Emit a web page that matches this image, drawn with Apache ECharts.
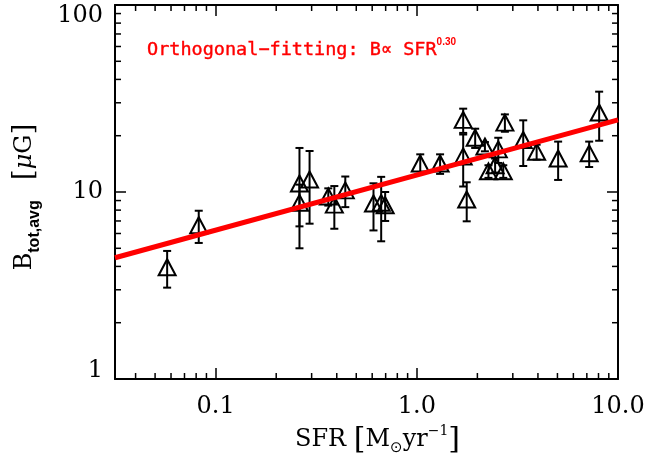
<!DOCTYPE html>
<html><head><meta charset="utf-8">
<script src="https://cdn.jsdelivr.net/npm/echarts@6/dist/echarts.min.js"></script>
<style>html,body{margin:0;padding:0;background:#fff}#c{width:650px;height:462px}</style>
</head><body><div id="c"></div>
<script>
// ---- data ----
const sfr  = [0.0574, 0.0824, 0.261, 0.261, 0.293, 0.363, 0.389, 0.441, 0.609, 0.665, 0.696,
              1.04, 1.305, 1.70, 1.70, 1.77, 1.95, 2.18, 2.54, 2.27, 2.45, 2.69, 2.74, 3.38, 3.94, 5.04, 7.19, 8.06];
const bTot = [3.96, 6.64, 11.1, 8.75, 11.67, 9.46, 8.56, 10.2, 8.68, 8.75, 8.5,
              14.2, 14.2, 24.3, 15.5, 9.12, 19.5, 17.5, 16.9, 12.9, 13.9, 12.9, 23.5, 18.97, 16.4, 15.1, 16.1, 26.6];
const bErr = [0.88, 1.3, 6.1, 2.2, 4.9, 1.0, 2.2, 1.9, 2.45, 3.3, 1.5,
              1.7, 1.7, 3.6, 4.8, 2.15, 2.3, 1.0, 2.6, 1.0, 1.2, 1.0, 2.5, 5.2, 1.5, 3.5, 2.5, 7.8];
const fitSfr = [0.0316, 10];
const fitB   = [4.45, 24.3];
const xRange = [0.0316, 10];
const yRange = [1, 100];
const xMajorTicks = [0.1, 1, 10];
const xTickLabels = ['0.1', '1.0', '10.0'];
const yMajorTicks = [1, 10, 100];
const yTickLabels = ['1', '10', '100'];
const xMinorTicks = [0.04, 0.05, 0.06, 0.07, 0.08, 0.09, 0.2, 0.3, 0.4, 0.5, 0.6, 0.7, 0.8, 0.9, 2, 3, 4, 5, 6, 7, 8, 9];
const yMinorTicks = [2, 3, 4, 5, 6, 7, 8, 9, 20, 30, 40, 50, 60, 70, 80, 90];
const fitLabel = 'Orthogonal\u2212fitting: B\u221d SFR';
const fitExp = '0.30';

// ---- chart ----
const SERIF = 'DejaVu Serif';
function idx(values, v) {
  return values.findIndex(t => Math.abs(Math.log10(v) - Math.log10(t)) < 1e-6);
}
function fmtX(v) { const i = idx(xMajorTicks, v); return i >= 0 ? xTickLabels[i] : ''; }
function fmtY(v) {
  const i = idx(yMajorTicks, v);
  if (i < 0) return '';
  const key = i === 0 ? 'bot' : (i === yMajorTicks.length - 1 ? 'top' : 'mid');
  return '{' + key + '|' + yTickLabels[i] + '}';
}
const axisLine = { onZero: false, lineStyle: { color: '#000', width: 2 } };
const tick = { inside: true, length: 11, lineStyle: { color: '#000', width: 1.5 } };
const chart = echarts.init(document.getElementById('c'), null, { renderer: 'canvas' });
const MINOR = 6;
function minorX(params, api) {
  const v = api.value(0);
  const b = api.coord([v, yRange[0]]), t = api.coord([v, yRange[1]]);
  const st = { stroke: '#000', lineWidth: 1.5 };
  return { type: 'group', children: [
    { type: 'line', shape: { x1: b[0], y1: b[1], x2: b[0], y2: b[1] - MINOR }, style: st },
    { type: 'line', shape: { x1: t[0], y1: t[1], x2: t[0], y2: t[1] + MINOR }, style: st }
  ]};
}
function minorY(params, api) {
  const v = api.value(1);
  const l = api.coord([xRange[0], v]), r = api.coord([xRange[1], v]);
  const st = { stroke: '#000', lineWidth: 1.5 };
  return { type: 'group', children: [
    { type: 'line', shape: { x1: l[0], y1: l[1], x2: l[0] + MINOR, y2: l[1] }, style: st },
    { type: 'line', shape: { x1: r[0], y1: r[1], x2: r[0] - MINOR, y2: r[1] }, style: st }
  ]};
}
function errBar(params, api) {
  const x = api.value(0), lo = api.value(1), hi = api.value(2);
  const p1 = api.coord([x, hi]), p2 = api.coord([x, lo]);
  const hw = 4, st = { stroke: '#000', lineWidth: 2 };
  return { type: 'group', children: [
    { type: 'line', shape: { x1: p1[0], y1: p1[1], x2: p2[0], y2: p2[1] }, style: st },
    { type: 'line', shape: { x1: p1[0] - hw, y1: p1[1], x2: p1[0] + hw, y2: p1[1] }, style: st },
    { type: 'line', shape: { x1: p2[0] - hw, y1: p2[1], x2: p2[0] + hw, y2: p2[1] }, style: st }
  ]};
}
const ylab = { fontFamily: SERIF, fontSize: 24, color: '#000' };
const option = {
  animation: false,
  backgroundColor: '#fff',
  title: {
    text: '{a|' + fitLabel + '}{s|' + fitExp + '}',
    left: 142, top: 32,
    textStyle: { rich: {
      a: { fontFamily: 'DejaVu Sans Mono', fontWeight: 'normal', fontSize: 18.5, color: '#ff0000', lineHeight: 26,
           textBorderColor: '#ff0000', textBorderWidth: 0.4 },
      s: { fontFamily: 'Liberation Sans', fontWeight: 'bold', fontSize: 10, color: '#ff0000', verticalAlign: 'top', lineHeight: 12 }
    } }
  },
  grid: { left: 115, right: 32, top: 5, bottom: 83, outerBoundsMode: 'none', containLabel: false },
  xAxis: [
    { type: 'log', logBase: 10, min: xRange[0], max: xRange[1], position: 'bottom',
      axisLine, axisTick: tick, splitLine: { show: false },
      axisLabel: { formatter: fmtX, color: '#000', fontFamily: SERIF, fontSize: 24, margin: 16 },
      name: '{g|}{a|SFR }{b|[}{a|M}{s|\u2299}{a|yr}{p|\u22121}{b|]}',
      nameLocation: 'middle', nameGap: 43,
      nameTextStyle: { rich: {
        g: { width: 22, lineHeight: 32 },
        a: { fontFamily: SERIF, fontSize: 24, color: '#000', lineHeight: 32 },
        b: { fontFamily: SERIF, fontSize: 30, color: '#000', lineHeight: 32 },
        s: { fontFamily: 'DejaVu Sans', fontSize: 15, color: '#000', verticalAlign: 'bottom', lineHeight: 15 },
        p: { fontFamily: SERIF, fontSize: 14, color: '#000', verticalAlign: 'top', lineHeight: 14 }
      } } },
    { type: 'log', logBase: 10, min: xRange[0], max: xRange[1], position: 'top',
      axisLine, axisTick: tick, splitLine: { show: false }, axisLabel: { show: false } }
  ],
  yAxis: [
    { type: 'log', logBase: 10, min: yRange[0], max: yRange[1], position: 'left',
      axisLine, axisTick: tick, splitLine: { show: false },
      axisLabel: { formatter: fmtY, margin: 12, rich: {
        top: Object.assign({ padding: [22, 0, 0, 0] }, ylab),
        mid: Object.assign({}, ylab),
        bot: Object.assign({ padding: [0, 0, 16, 0] }, ylab)
      } },
      name: '{a|B}{s|tot,avg}{g|}{b|[}{i|\u03bc}{a|G}{b|]}{h|}',
      nameLocation: 'middle', nameGap: 72, nameRotate: 90,
      nameTextStyle: { rich: {
        a: { fontFamily: SERIF, fontSize: 24, color: '#000', lineHeight: 32, verticalAlign: 'bottom', padding: [0, 0, 6, 0] },
        b: { fontFamily: SERIF, fontSize: 28, color: '#000', lineHeight: 32, verticalAlign: 'bottom', padding: [0, 0, 4, 0] },
        i: { fontFamily: SERIF, fontStyle: 'italic', fontSize: 24, color: '#000', lineHeight: 32, verticalAlign: 'bottom', padding: [0, 0, 6, 0] },
        s: { fontFamily: 'Liberation Sans', fontWeight: 'bold', fontSize: 16, color: '#000', verticalAlign: 'bottom', lineHeight: 16 },
        g: { width: 20, lineHeight: 32 },
        h: { width: 10, lineHeight: 32 }
      } } },
    { type: 'log', logBase: 10, min: yRange[0], max: yRange[1], position: 'right',
      axisLine, axisTick: tick, splitLine: { show: false }, axisLabel: { show: false } }
  ],
  series: [
    { type: 'custom', silent: true, renderItem: minorX, data: xMinorTicks.map(v => [v, yRange[0]]), z: 1 },
    { type: 'custom', silent: true, renderItem: minorY, data: yMinorTicks.map(v => [xRange[0], v]), z: 1 },
    { type: 'custom', silent: true, renderItem: errBar, encode: { x: 0, y: [1, 2] },
      data: sfr.map((x, i) => [x, bTot[i] - bErr[i], bTot[i] + bErr[i]]), z: 2 },
    { type: 'scatter', symbol: 'triangle', symbolSize: [17, 16],
      itemStyle: { color: 'rgba(0,0,0,0)', borderColor: '#000', borderWidth: 2, opacity: 1 },
      data: sfr.map((x, i) => [x, bTot[i]]), z: 3 },
    { type: 'line', symbol: 'none', lineStyle: { color: '#ff0000', width: 5 },
      data: fitSfr.map((x, i) => [x, fitB[i]]), z: 5 }
  ]
};
chart.setOption(option);
</script></body></html>
